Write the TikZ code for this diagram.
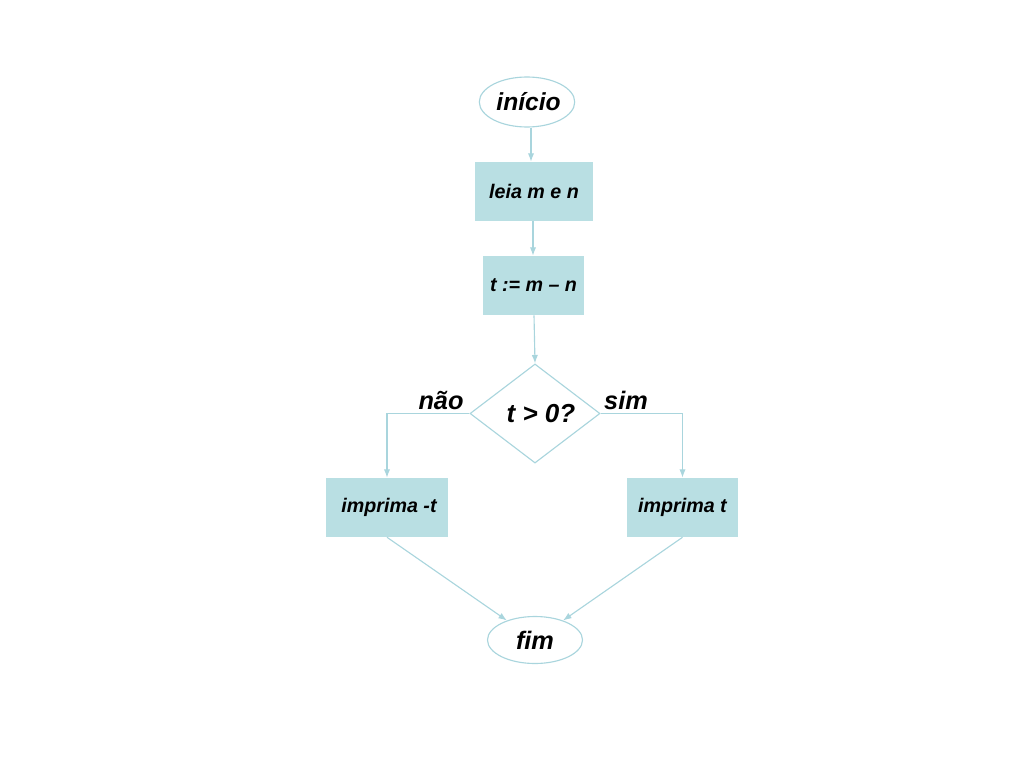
\documentclass[tikz,border=0pt]{standalone}
\usepackage{fontspec}
\setmainfont{Liberation Sans}
\usetikzlibrary{shapes.geometric, positioning, arrows.meta, calc}

\definecolor{linecol}{HTML}{A9D5DD}
\definecolor{boxfill}{HTML}{B9DFE3}

\begin{document}
\begin{tikzpicture}[
  x=0.025cm, y=-0.025cm,
  >={Latex[length=6pt, width=4.5pt]},
  font=\bfseries\itshape,
  arr/.style={->, draw=linecol, line width=0.8pt},
  term/.style={ellipse, draw=linecol, line width=0.8pt, fill=white, inner sep=0pt},
  box/.style={rectangle, fill=boxfill, inner sep=0pt, minimum height=1.475cm, font=\fontsize{14}{16}\selectfont\bfseries\itshape},
  cond/.style={diamond, draw=linecol, line width=0.8pt, fill=white, inner sep=0pt, minimum width=3.25cm, minimum height=2.325cm, font=\fontsize{18.5}{20}\selectfont\bfseries\itshape},
  lbl/.style={inner sep=0pt, font=\fontsize{18}{20}\selectfont\bfseries\itshape}
]
  \useasboundingbox (0,0) rectangle (1024,768);

  \node[term, minimum width=2.35cm, minimum height=1.25cm, font=\fontsize{17.5}{20}\selectfont\bfseries\itshape] (inicio) at (527,102) {\hspace*{0.08cm}início};

  \node[box, minimum width=2.95cm] (leia) at (534,191.5) {leia m e n};

  \node[box, minimum width=2.525cm] (calc) at (533.5,285.5) {t := m -- n};

  \node[cond] (teste) at (535,413.5) {\hspace*{0.3cm}t > 0?};

  \node[box, minimum width=3.05cm] (impneg) at (387,507.5) {\hspace*{0.1cm}imprima -t};
  \node[box, minimum width=2.775cm] (imppos) at (682.5,507.5) {imprima t};

  \node[term, minimum width=2.375cm, minimum height=1.175cm, font=\fontsize{18}{20}\selectfont\bfseries\itshape] (fim) at (535,640) {fim};

  \node[lbl] (nao) at (441,400) {não};
  \node[lbl] (sim) at (626,400) {sim};

  \draw[arr] (inicio.south -| 531,0) -- (leia.north -| 531,0);
  \draw[arr] (leia.south -| 533,0) -- (calc.north -| 533,0);
  \draw[arr] (calc.south -| 534,0) -- (teste.north);
  \draw[arr] (teste.west) -| (impneg.north);
  \draw[arr] (teste.east) -| (imppos.north);
  \draw[arr] (impneg.south) -- (fim);
  \draw[arr] (imppos.south) -- (fim);
\end{tikzpicture}
\end{document}
